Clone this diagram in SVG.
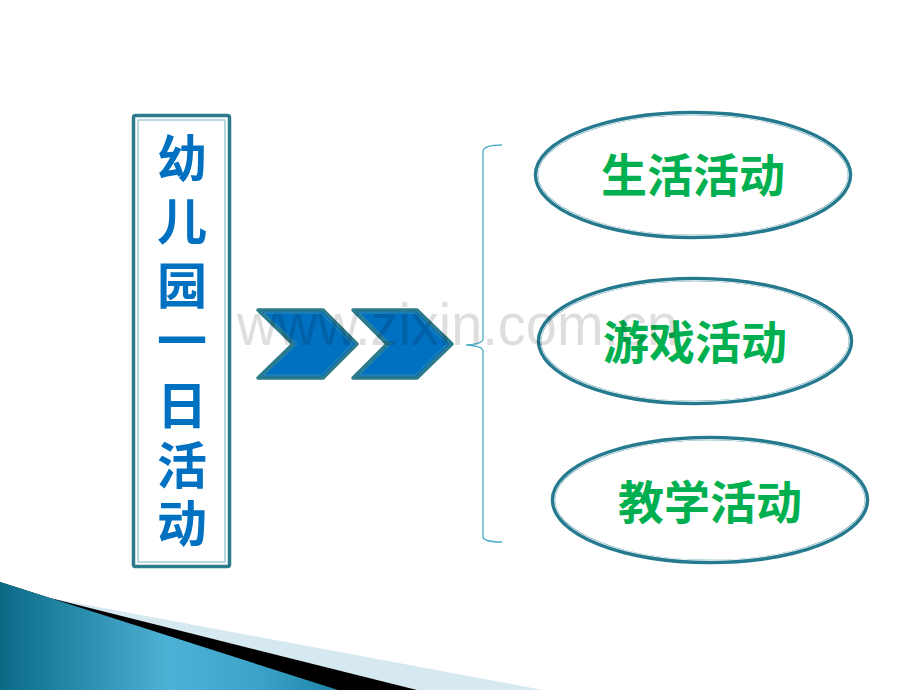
<svg xmlns="http://www.w3.org/2000/svg" width="920" height="690" viewBox="0 0 920 690">
<defs>
<linearGradient id="blueG" gradientUnits="userSpaceOnUse" x1="0" y1="0" x2="338" y2="0">
<stop offset="0" stop-color="#0A6A86"/>
<stop offset="0.5" stop-color="#4EB2D6"/>
<stop offset="0.78" stop-color="#3AA2C8"/>
<stop offset="1" stop-color="#1C84A6"/>
</linearGradient>
<style>
.vt{font-family:"Noto Sans CJK SC","Noto Sans",sans-serif;font-weight:bold;font-size:50px;fill:#0070C0;text-anchor:middle}
.gt{font-family:"Noto Sans CJK SC","Noto Sans",sans-serif;font-weight:bold;font-size:46px;fill:#00B050;text-anchor:middle}
.ell{fill:none;stroke:#267A8F;stroke-width:4.5}
.ellin{fill:none;stroke:#ffffff;stroke-width:0.9}
.chev{fill:#0070C0;stroke:#2C7A8C;stroke-width:3.5;stroke-linejoin:round}
.chevin{fill:none;stroke:#3F93A8;stroke-width:1;stroke-linejoin:round;opacity:0.8}
.br{fill:none;stroke:#4BACC6;stroke-width:1.3}
</style>
</defs>
<rect width="920" height="690" fill="#ffffff"/>

<g id="decoration">
<path d="M0,582 L50,598 L543,690 L0,690 Z" fill="#D6E8F0"/>
<path d="M0,582 L50,598 L417,690 L0,690 Z" fill="#000000"/>
<path d="M0,582 L338,690 L0,690 Z" fill="url(#blueG)"/>
</g>

<g id="title-box">
<rect x="133.5" y="115.5" width="96" height="451" fill="#ffffff" stroke="#2C7B8D" stroke-width="3.5" rx="2"/>
<rect x="138" y="120" width="87" height="442" fill="none" stroke="#8DBFCB" stroke-width="1.2"/>
<text class="vt" x="182" y="177">幼</text>
<text class="vt" x="182" y="240">儿</text>
<text class="vt" x="182" y="304">园</text>
<text class="vt" x="182" y="359">一</text>
<text class="vt" x="182" y="424">日</text>
<text class="vt" x="182" y="484">活</text>
<text class="vt" x="182" y="542">动</text>
</g>

<g id="connectors">
<g id="chevrons">
<polygon class="chev" points="258,310 323,310 357,344 323,378 258,378 293,344"/>
<polygon class="chevin" points="264,313 321,313 352,344 321,375 264,375 297,344"/>
<polygon class="chev" points="353,310 417,310 452,344 417,378 353,378 387,344"/>
<polygon class="chevin" points="359,313 415,313 447,344 415,375 359,375 391,344"/>
</g>
<path class="br" d="M502,145 Q484,145 483,151 L483,339 Q483,344 466,345 Q483,346 483,351 L483,537 Q484,542 502,542"/>
</g>

<g id="node-life">
<ellipse class="ell" cx="693" cy="175" rx="157" ry="62"/>
<ellipse class="ellin" cx="693" cy="175" rx="155.4" ry="60.4"/>
<text class="gt" x="693" y="192">生活活动</text>
</g>

<g id="node-game">
<ellipse class="ell" cx="695" cy="341" rx="156" ry="62"/>
<ellipse class="ellin" cx="695" cy="341" rx="154.4" ry="60.4"/>
<text class="gt" x="695" y="359">游戏活动</text>
</g>

<g id="node-teach">
<ellipse class="ell" cx="710" cy="500" rx="157" ry="62"/>
<ellipse class="ellin" cx="710" cy="500" rx="155.4" ry="60.4"/>
<text class="gt" x="710" y="519">教学活动</text>
</g>

<text x="237" y="345" font-family="Liberation Sans, Arial, sans-serif" font-size="60" fill="#000000" fill-opacity="0.13" textLength="441" lengthAdjust="spacingAndGlyphs">www.zixin.com.cn</text>
</svg>
